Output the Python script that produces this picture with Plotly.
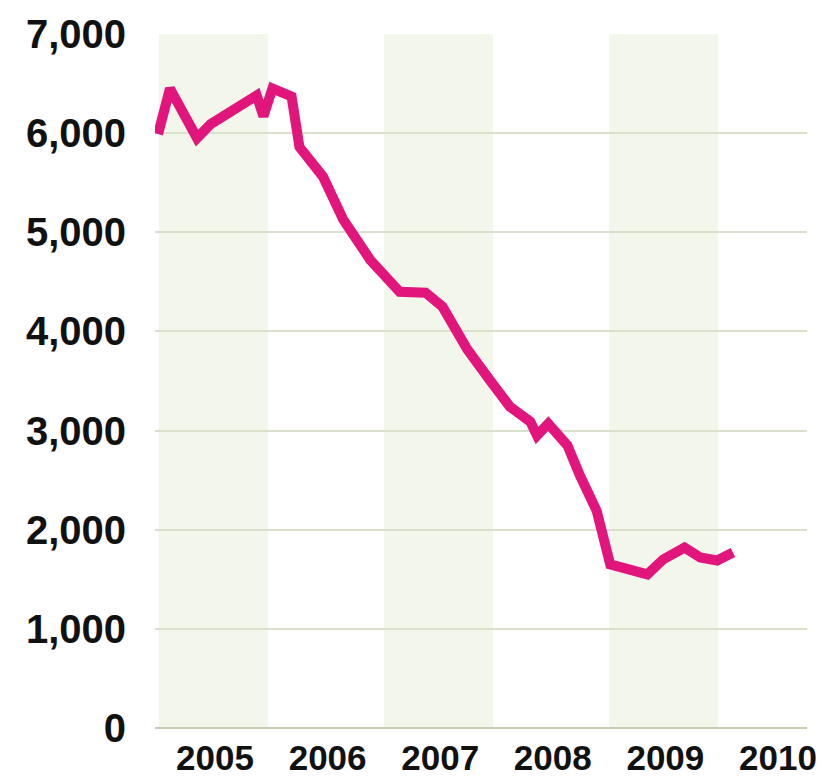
import plotly.graph_objects as go

# Data (fractional year, value)
t = [2004.994, 2005.10, 2005.34, 2005.46, 2005.87, 2005.93, 2006.01, 2006.18, 2006.25,
     2006.46, 2006.64, 2006.88, 2007.14, 2007.37, 2007.52, 2007.74, 2007.94, 2008.12,
     2008.30, 2008.36, 2008.46, 2008.63, 2008.74, 2008.89, 2009.01, 2009.34, 2009.48,
     2009.67, 2009.81, 2009.96, 2010.10]
values = [5990, 6450, 5950, 6090, 6380, 6170, 6450, 6370, 5860,
          5560, 5125, 4720, 4400, 4390, 4250, 3820, 3510, 3240,
          3090, 2950, 3070, 2850, 2550, 2190, 1650, 1550, 1700,
          1820, 1720, 1690, 1770]
years = [2005, 2006, 2007, 2008, 2009, 2010]
shaded_years = [2005, 2007, 2009]
y_ticks = [0, 1000, 2000, 3000, 4000, 5000, 6000, 7000]

fig = go.Figure()
fig.add_trace(go.Scatter(x=t, y=values, mode="lines",
                         line=dict(color="#e2157c", width=10, shape="linear"),
                         hoverinfo="skip"))

for yr in shaded_years:
    fig.add_shape(type="rect", xref="x", yref="y", x0=yr, x1=yr + 0.97, y0=0, y1=7000,
                  fillcolor="#f3f7eb", line=dict(width=0), layer="below")

fig.update_layout(
    width=829, height=778,
    margin=dict(l=155, r=22, t=34, b=50, autoexpand=False),
    paper_bgcolor="white", plot_bgcolor="white",
    showlegend=False,
    xaxis=dict(range=[2004.967, 2010.758], tickvals=[y + 0.5 for y in years],
               ticktext=[str(y) for y in years], showgrid=False, zeroline=False,
               showline=False, ticks="", ticklabelstandoff=6, automargin=False,
               tickfont=dict(family="Liberation Sans, Arial", size=35, color="#111111", weight="bold")),
    yaxis=dict(range=[0, 7000], tickvals=y_ticks, ticktext=[f"{v:,}" for v in y_ticks],
               showgrid=True, gridcolor="#d9e0cc", gridwidth=2, zeroline=True,
               zerolinecolor="#c3cdb3", zerolinewidth=2, showline=False, ticks="",
               ticklabelstandoff=28, automargin=False,
               tickfont=dict(family="Liberation Sans, Arial", size=40, color="#111111", weight="bold")),
)

fig.write_html("out.html")
